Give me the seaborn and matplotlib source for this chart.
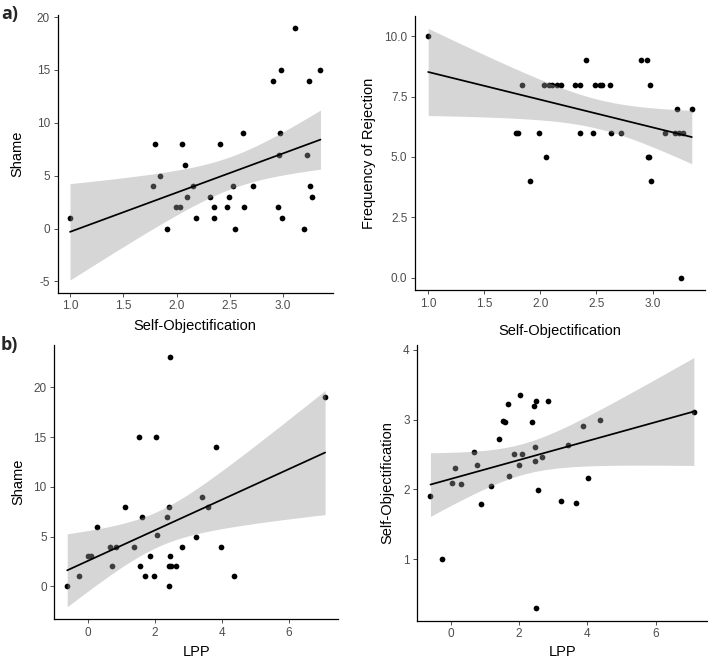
import numpy as np
import pandas as pd
import matplotlib
matplotlib.use("Agg")
import matplotlib.pyplot as plt
import seaborn as sns

# ---------------- data ----------------
so_a = [1.00, 1.78, 1.80, 1.84, 1.91, 1.99, 2.03, 2.05, 2.08, 2.10, 2.15, 2.18,
        2.31, 2.35, 2.35, 2.41, 2.47, 2.49, 2.53, 2.55, 2.62, 2.63, 2.72, 2.90,
        2.95, 2.96, 2.97, 2.98, 2.99, 3.11, 3.20, 3.22, 3.24, 3.25, 3.27, 3.35]
shame_a = [1, 4, 8, 5, 0, 2, 2, 8, 6, 3, 4, 1,
           3, 2, 1, 8, 2, 3, 4, 0, 9, 2, 4, 14,
           2, 7, 9, 15, 1, 19, 0, 7, 14, 4, 3, 15]
rej_a = [10, 6, 6, 8, 4, 6, 8, 5, 8, 8, 8, 8,
         8, 8, 6, 9, 6, 8, 8, 8, 8, 6, 6, 9,
         9, 5, 5, 8, 4, 6, 6, 7, 6, 0, 6, 7]

lpp_b1 = [-0.61, -0.27, 0.01, 0.10, 0.27, 0.68, 0.73, 0.86, 1.13, 1.39, 1.52, 1.55,
          1.63, 1.71, 1.85, 1.99, 2.04, 2.06, 2.37, 2.42, 2.42, 2.44, 2.47, 2.47,
          2.50, 2.63, 2.83, 3.23, 3.42, 3.60, 3.83, 3.98, 4.36, 7.09]
shame_b1 = [0, 1, 3, 3, 6, 4, 2, 4, 8, 4, 15, 2,
            7, 1, 3, 1, 15, 5.2, 7, 0, 2, 8, 23, 3,
            2, 2, 4, 5, 9, 8, 14, 4, 1, 19]

lpp_b2 = [-0.59, -0.24, 0.04, 0.12, 0.30, 0.69, 0.76, 0.88, 1.17, 1.42, 1.52, 1.58,
          1.67, 1.71, 1.87, 2.01, 2.04, 2.10, 2.39, 2.43, 2.50, 2.47, 2.47, 2.55,
          2.68, 2.85, 2.50, 3.22, 3.67, 3.45, 3.89, 4.37, 4.01, 7.12]
so_b2 = [1.905, 1.00, 2.09, 2.31, 2.08, 2.54, 2.35, 1.79, 2.05, 2.72, 2.98, 2.96,
         3.22, 2.19, 2.50, 2.35, 3.35, 2.50, 2.96, 3.19, 3.27, 2.61, 2.40, 1.99,
         2.47, 3.26, 0.30, 1.84, 1.80, 2.63, 2.90, 3.00, 2.16, 3.11]

panels = [
    dict(x=so_a, y=shame_a, xlabel="Self-Objectification", ylabel="Shame",
         xticks=[1.0, 1.5, 2.0, 2.5, 3.0], xfmt="{:.1f}",
         yticks=[-5, 0, 5, 10, 15, 20], yfmt="{:d}",
         box=(57.5, 15, 333, 292.7), ylab_px=17, xlab_px=326),
    dict(x=so_a, y=rej_a, xlabel="Self-Objectification", ylabel="Frequency of Rejection",
         xticks=[1.0, 1.5, 2.0, 2.5, 3.0], xfmt="{:.1f}",
         yticks=[0.0, 2.5, 5.0, 7.5, 10.0], yfmt="{:.1f}",
         box=(415, 16, 705, 290), ylab_px=369, xlab_px=331.5),
    dict(x=lpp_b1, y=shame_b1, xlabel="LPP", ylabel="Shame",
         xticks=[0, 2, 4, 6], xfmt="{:d}",
         yticks=[0, 5, 10, 15, 20], yfmt="{:d}",
         box=(54.3, 345, 338, 619.3), ylab_px=18, xlab_px=652.5),
    dict(x=lpp_b2, y=so_b2, xlabel="LPP", ylabel="Self-Objectification",
         xticks=[0, 2, 4, 6], xfmt="{:d}",
         yticks=[1, 2, 3, 4], yfmt="{:d}",
         box=(417.3, 345, 707, 620.7), ylab_px=387, xlab_px=651.5),
]

W, H = 708, 662
sns.set_theme(style="ticks")
plt.rcParams["font.family"] = ["Liberation Sans", "DejaVu Sans"]
fig = plt.figure(figsize=(W / 100, H / 100), dpi=100)


def t_crit(df):
    z = 1.959964
    return z + (z**3 + z) / (4 * df) + (5 * z**5 + 16 * z**3 + 3 * z) / (96 * df**2)


for p in panels:
    l, t, r, b = p["box"]
    ax = fig.add_axes([l / W, 1 - b / H, (r - l) / W, (b - t) / H])
    df = pd.DataFrame({"x": p["x"], "y": p["y"]})
    x = df["x"].to_numpy(float)
    y = df["y"].to_numpy(float)
    n = len(x)
    slope, inter = np.polyfit(x, y, 1)
    resid = y - (inter + slope * x)
    s = np.sqrt(np.sum(resid**2) / (n - 2))
    xg = np.linspace(x.min(), x.max(), 80)
    fit = inter + slope * xg
    se = s * np.sqrt(1 / n + (xg - x.mean())**2 / np.sum((x - x.mean())**2))
    tc = t_crit(n - 2)
    lo, hi = fit - tc * se, fit + tc * se

    sns.regplot(data=df, x="x", y="y", ax=ax, ci=None, truncate=True,
                scatter_kws=dict(s=17, color="black", alpha=1, linewidths=0, zorder=1),
                line_kws=dict(color="black", lw=1.25, zorder=3))
    ax.fill_between(xg, lo, hi, color="#999999", alpha=0.4, linewidth=0, zorder=2)

    xr = x.max() - x.min()
    ax.set_xlim(x.min() - 0.05 * xr, x.max() + 0.05 * xr)
    ymin = min(y.min(), lo.min())
    ymax = max(y.max(), hi.max())
    yr = ymax - ymin
    ax.set_ylim(ymin - 0.05 * yr, ymax + 0.05 * yr)

    ax.set_xticks(p["xticks"])
    ax.set_xticklabels([p["xfmt"].format(v) for v in p["xticks"]])
    ax.set_yticks(p["yticks"])
    ax.set_yticklabels([p["yfmt"].format(v) for v in p["yticks"]])
    ax.tick_params(axis="both", labelsize=8.5, labelcolor="#4D4D4D", color="#333333",
                   length=3, width=0.6, pad=2.5)
    for side in ("top", "right"):
        ax.spines[side].set_visible(False)
    for side in ("left", "bottom"):
        ax.spines[side].set_color("black")
        ax.spines[side].set_linewidth(0.9)
    ax.set_xlabel(p["xlabel"], fontsize=10.5, color="black")
    ax.set_ylabel(p["ylabel"], fontsize=10.5, color="black")
    ax.xaxis.label.set_va("center")
    ax.yaxis.label.set_va("center")
    ax.xaxis.set_label_coords(0.5, (b - p["xlab_px"]) / (b - t))
    ax.yaxis.set_label_coords((p["ylab_px"] - l) / (r - l), 0.5)
    ax.set_facecolor("white")

fig.text(1 / W, 1 - 14 / H, "a)", fontsize=13, fontweight="bold", va="center", ha="left",
         family=["Open Sans", "DejaVu Sans"])
fig.text(1 / W, 1 - 345 / H, "b)", fontsize=13, fontweight="bold", va="center", ha="left",
         family=["Open Sans", "DejaVu Sans"])

fig.savefig("out.png", dpi=100, facecolor="white")
